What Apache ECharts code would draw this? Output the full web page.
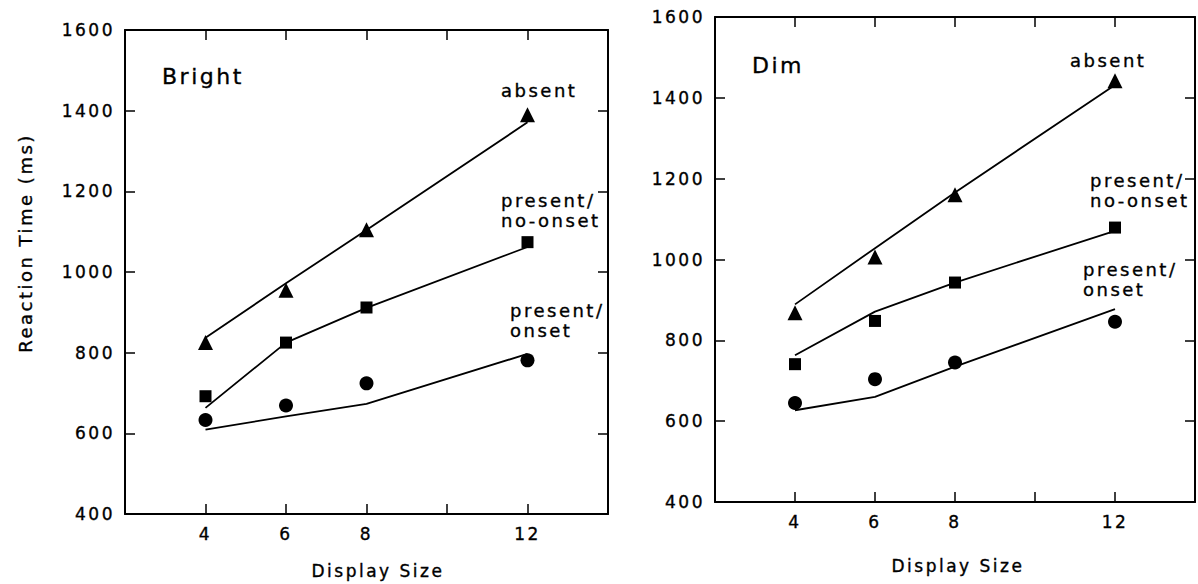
<!DOCTYPE html>
<html>
<head>
<meta charset="utf-8">
<script src="https://cdn.jsdelivr.net/npm/echarts@6/dist/echarts.min.js"></script>
<style>
  html, body { margin: 0; padding: 0; background: #fff; }
  #chart { width: 1198px; height: 584px; }
  /* wide, evenly tracked lettering like a pen-plotter font */
  #chart svg text { letter-spacing: 2.5px; stroke: #000; stroke-width: 0.35px; }
</style>
</head>
<body>
<div id="chart"></div>
<script>
// Display sizes (x) and the tick values that carry a label
const displaySizes = [4, 6, 8, 12];
const xTickLabels = [4, 6, 8, 12];
const yTickLabels = [400, 600, 800, 1000, 1200, 1400, 1600];

// Bright condition: observed mean RTs (markers) and model predictions (lines)
const brightAbsent = [825, 955, 1105, 1390];
const brightAbsentFit = [837, 972, 1104, 1371];
const brightNoOnset = [692, 825, 912, 1074];
const brightNoOnsetFit = [663, 825, 911, 1062];
const brightOnset = [633, 669, 724, 781];
const brightOnsetFit = [609, 642, 673, 797];

// Dim condition
const dimAbsent = [868, 1006, 1160, 1442];
const dimAbsentFit = [889, 1028, 1166, 1432];
const dimNoOnset = [741, 848, 943, 1079];
const dimNoOnsetFit = [763, 871, 943, 1071];
const dimOnset = [645, 704, 745, 846];
const dimOnsetFit = [627, 660, 735, 877];

const panelTitles = ['Bright', 'Dim'];
const conditionLabels = ['absent', 'present/\nno-onset', 'present/\nonset'];
const xAxisTitle = 'Display Size';
const yAxisTitle = 'Reaction Time (ms)';

const FONT = 'DejaVu Sans';
const INK = '#000';

const grids = [
  { left: 125, top: 30, width: 483, height: 484 },
  { left: 715, top: 17, width: 482, height: 485 }
];

const tickStyle = { inside: true, length: 10, lineStyle: { color: INK, width: 1.5 } };
const frameLine = { lineStyle: { color: INK, width: 2 } };

function panelAxes(gi) {
  const x = [
    {
      type: 'value', gridIndex: gi, min: 2, max: 14, interval: 2, position: 'bottom',
      axisLine: { onZero: false, ...frameLine }, axisTick: tickStyle, splitLine: { show: false },
      axisLabel: {
        margin: 11, fontSize: 17, color: INK, fontFamily: FONT,
        formatter: v => (xTickLabels.includes(v) ? String(v) : '')
      }
    },
    {
      type: 'value', gridIndex: gi, min: 2, max: 14, interval: 2, position: 'top',
      axisLine: { onZero: false, ...frameLine }, axisTick: tickStyle, splitLine: { show: false },
      axisLabel: { show: false }
    }
  ];
  const y = [
    {
      type: 'value', gridIndex: gi, min: yTickLabels[0], max: yTickLabels[yTickLabels.length - 1],
      interval: 200, position: 'left',
      axisLine: { show: true, onZero: false, ...frameLine }, axisTick: { show: true, ...tickStyle },
      splitLine: { show: false },
      axisLabel: {
        margin: 10, fontSize: 17, color: INK, fontFamily: FONT,
        formatter: v => (yTickLabels.includes(v) ? String(v) : '')
      }
    },
    {
      type: 'value', gridIndex: gi, min: yTickLabels[0], max: yTickLabels[yTickLabels.length - 1],
      interval: 200, position: 'right',
      axisLine: { show: true, onZero: false, ...frameLine }, axisTick: { show: true, ...tickStyle },
      splitLine: { show: false }, axisLabel: { show: false }
    }
  ];
  return { x, y };
}

const a0 = panelAxes(0), a1 = panelAxes(1);
const xAxis = [...a0.x, ...a1.x];
const yAxis = [...a0.y, ...a1.y];
// bottom x axis of each panel: 0 and 2; left y axis: 0 and 2

const pairs = vals => displaySizes.map((s, i) => [s, vals[i]]);

function fitLine(vals, gi) {
  return {
    type: 'line', xAxisIndex: gi * 2, yAxisIndex: gi * 2, data: pairs(vals),
    showSymbol: false, symbol: 'none', silent: true, z: 2,
    lineStyle: { color: INK, width: 1.8 }
  };
}
function points(vals, gi, symbol, size) {
  return {
    type: 'scatter', xAxisIndex: gi * 2, yAxisIndex: gi * 2, data: pairs(vals),
    symbol, symbolSize: size, z: 3, itemStyle: { color: INK, opacity: 1 }
  };
}

const series = [
  fitLine(brightAbsentFit, 0), fitLine(brightNoOnsetFit, 0), fitLine(brightOnsetFit, 0),
  points(brightAbsent, 0, 'triangle', 15), points(brightNoOnset, 0, 'rect', 12), points(brightOnset, 0, 'circle', 14),
  fitLine(dimAbsentFit, 1), fitLine(dimNoOnsetFit, 1), fitLine(dimOnsetFit, 1),
  points(dimAbsent, 1, 'triangle', 15), points(dimNoOnset, 1, 'rect', 12), points(dimOnset, 1, 'circle', 14)
];

function txt(text, x, y, size, extra) {
  return {
    type: 'text', x, y, silent: true,
    style: Object.assign({
      text, fontSize: size, fontFamily: FONT, fill: INK,
      align: 'left', verticalAlign: 'middle', lineHeight: 20
    }, extra || {})
  };
}

const graphic = [
  // panel titles
  txt(panelTitles[0], 162, 76, 22),
  txt(panelTitles[1], 752, 65, 22),
  // curve labels, bright panel
  txt(conditionLabels[0], 501, 90, 18),
  txt(conditionLabels[1], 501, 210, 18),
  txt(conditionLabels[2], 510, 320, 18),
  // curve labels, dim panel
  txt(conditionLabels[0], 1070, 60, 18),
  txt(conditionLabels[1], 1090, 190, 18),
  txt(conditionLabels[2], 1083, 279, 18),
  // axis titles
  txt(xAxisTitle, 378, 571, 17, { align: 'center' }),
  txt(xAxisTitle, 958, 566, 17, { align: 'center' }),
  Object.assign(txt(yAxisTitle, 25, 243, 18, { align: 'center' }), { rotation: Math.PI / 2 })
];

const chart = echarts.init(document.getElementById('chart'), null, { renderer: 'svg' });
chart.setOption({
  animation: false,
  backgroundColor: '#fff',
  grid: grids.map(g => ({ ...g, containLabel: false })),
  xAxis, yAxis, series, graphic
});
</script>
</body>
</html>
